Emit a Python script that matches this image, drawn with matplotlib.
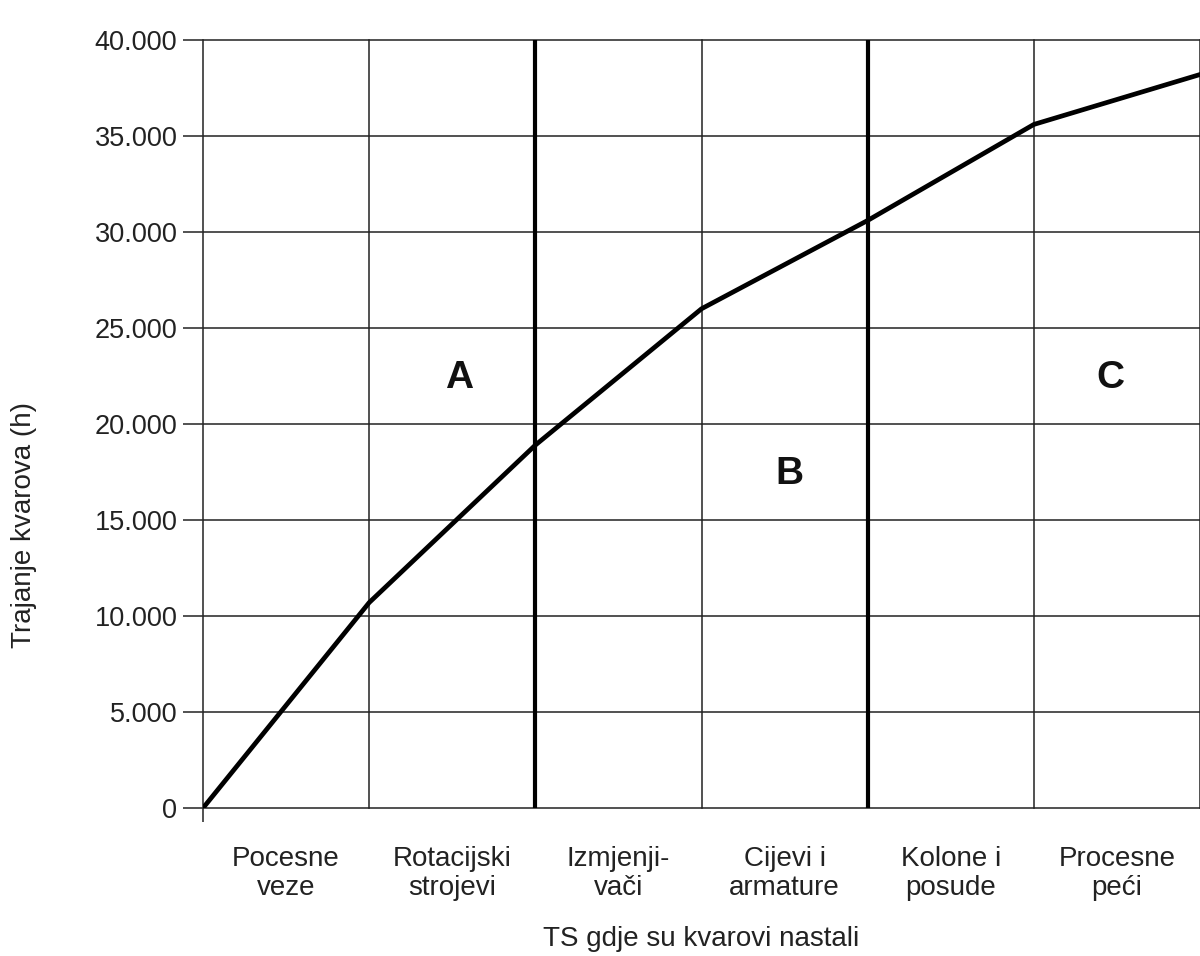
import matplotlib
matplotlib.use("Agg")
import matplotlib.pyplot as plt
from matplotlib.ticker import FuncFormatter

plt.rcParams['font.family'] = ['Liberation Sans', 'DejaVu Sans']

# data
categories = ["Pocesne\nveze", "Rotacijski\nstrojevi", "Izmjenji-\nvači",
              "Cijevi i\narmature", "Kolone i\nposude", "Procesne\npeći"]
boundaries = [0, 1, 2, 3, 4, 5, 6]
hours = [0, 10700, 18900, 26000, 30600, 35600, 38200]
y_ticks = [0, 5000, 10000, 15000, 20000, 25000, 30000, 35000, 40000]
zone_limits = [2, 4]
zone_names = ["A", "B", "C"]
zone_pos = [(1.54, 22400), (3.53, 17400), (5.46, 22400)]

TXT = "#222222"

fig = plt.figure(figsize=(12, 9.56), dpi=100)
ax = fig.add_axes([0.1692, 0.1548, 0.8308, 0.8034])

ax.set_xlim(0, 6)
ax.set_ylim(0, 40000)

for s in ax.spines.values():
    s.set_visible(False)

# grid
for y in y_ticks:
    ax.axhline(y, color="#333333", lw=1.2, zorder=1, clip_on=False)
for x in boundaries:
    if x in zone_limits:
        ax.axvline(x, color="black", lw=3.0, zorder=2)
    else:
        ax.axvline(x, color="#222222", lw=1.1, zorder=1, clip_on=False)

ax.plot(boundaries, hours, color="black", lw=3.4, zorder=3)

for name, (x, y) in zip(zone_names, zone_pos):
    ax.text(x, y, name, fontsize=28, fontweight="bold", ha="center", va="center",
            color="#111111")

ax.set_yticks(y_ticks)
ax.yaxis.set_major_formatter(FuncFormatter(lambda v, p: f"{int(v):,}".replace(",", ".")))
ax.tick_params(axis="y", length=14.5, width=1.2, color="#333333", pad=4,
               labelsize=19.5, labelcolor=TXT)

ax.set_xticks([0])
ax.set_xticklabels([""])
ax.tick_params(axis="x", which="major", length=10, width=1.1, color="#222222")
ax.set_xticks([b + 0.5 for b in boundaries[:-1]], minor=True)
ax.set_xticklabels(categories, minor=True, linespacing=1.15)
ax.tick_params(axis="x", which="minor", length=0, pad=27, labelsize=20,
               labelcolor=TXT)

fig.text(701 / 1200, 1 - 939 / 956, "TS gdje su kvarovi nastali", fontsize=20,
         color=TXT, ha="center", va="center")
fig.text(24 / 1200, 1 - 525 / 956, "Trajanje kvarova (h)", fontsize=20,
         color=TXT, ha="center", va="center", rotation=90)

fig.savefig("out.png", dpi=100)
